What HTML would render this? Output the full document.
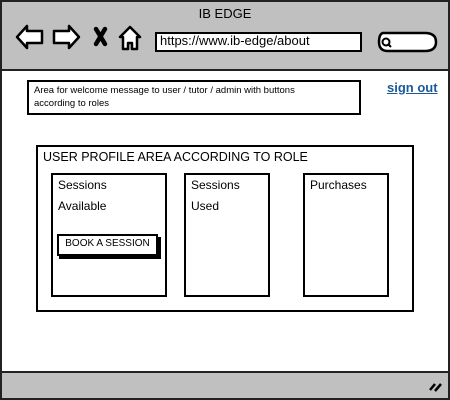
<!DOCTYPE html>
<html><head><meta charset="utf-8"><style>
html,body{margin:0;padding:0;background:#fff;}
body{width:450px;height:400px;position:relative;overflow:hidden;font-family:"Liberation Sans",sans-serif;color:#000;}
.a{position:absolute;box-sizing:border-box;}
.b{border:2px solid #000;background:#fff;}
.t{position:absolute;white-space:nowrap;}
</style></head><body>
<div class="a" style="left:0;top:0;width:450px;height:400px;border:2px solid #222;background:#fff;"></div>
<div class="a" style="left:2px;top:2px;width:446px;height:69px;background:#c0c0c0;border-bottom:2px solid #222;"></div>
<div class="a" style="left:2px;top:371px;width:446px;height:27px;background:#c0c0c0;border-top:2px solid #222;"></div>
<div class="t" style="left:0;width:450px;text-align:center;top:6px;font-size:13px;">IB EDGE</div>
<svg class="a" style="left:0;top:0" width="450" height="80">
<g fill="#fff" stroke="#000" stroke-width="2.5" stroke-linejoin="round">
<path d="M17 37 L27 26 L27 31 L42 31 L42 43 L27 43 L27 48 Z"/>
<path d="M79 37 L69 26 L69 31 L54 31 L54 43 L69 43 L69 48 Z"/>
<path d="M130 27 L120 37 L123 37 L123 49 L128 49 L128 43 L132 43 L132 49 L137 49 L137 37 L140 37 Z"/>
<path d="M383 33 L425 33 Q436 33 436 42 Q436 51 425 51 L388 51 Q379 51 379 42 Q379 34 383 33 Z"/>
</g>
<g stroke="#000" stroke-width="4.5" stroke-linecap="round"><line x1="96" y1="29" x2="105" y2="44"/><line x1="105" y1="29" x2="96" y2="44"/></g>
<circle cx="386" cy="42" r="3.5" fill="none" stroke="#000" stroke-width="2"/>
<line x1="388" y1="44" x2="391" y2="47" stroke="#000" stroke-width="2"/>
</svg>
<div class="a b" style="left:155px;top:32px;width:207px;height:20px;"></div>
<div class="t" style="left:160px;top:33px;font-size:13px;">https://www.ib-edge/about</div>
<div class="a b" style="left:27px;top:80px;width:334px;height:35px;"></div>
<div class="t" style="left:34px;top:84px;font-size:9.5px;line-height:13px;">Area for welcome message to user / tutor / admin with buttons<br>according to roles</div>
<div class="t" style="left:387px;top:80px;font-size:13px;font-weight:bold;color:#1a5a99;text-decoration:underline;">sign out</div>
<div class="a b" style="left:36px;top:145px;width:378px;height:167px;"></div>
<div class="t" style="left:43px;top:150px;font-size:12.5px;">USER PROFILE AREA ACCORDING TO ROLE</div>
<div class="a b" style="left:51px;top:173px;width:116px;height:124px;"></div>
<div class="t" style="left:58px;top:175px;font-size:12px;line-height:21px;">Sessions<br>Available</div>
<div class="a" style="left:59px;top:237px;width:102px;height:22px;background:#000;"></div>
<div class="a b" style="left:57px;top:234px;width:101px;height:22px;"></div>
<div class="t" style="left:57px;width:101px;text-align:center;top:238px;font-size:10px;">BOOK A SESSION</div>
<div class="a b" style="left:184px;top:173px;width:86px;height:124px;"></div>
<div class="t" style="left:191px;top:175px;font-size:12px;line-height:21px;">Sessions<br>Used</div>
<div class="a b" style="left:303px;top:173px;width:86px;height:124px;"></div>
<div class="t" style="left:310px;top:178px;font-size:12px;">Purchases</div>
<svg class="a" style="left:425px;top:378px" width="20" height="16"><g stroke="#000" stroke-width="2.5"><line x1="5" y1="12" x2="10" y2="6"/><line x1="10" y1="13" x2="16" y2="6"/></g></svg>
</body></html>
